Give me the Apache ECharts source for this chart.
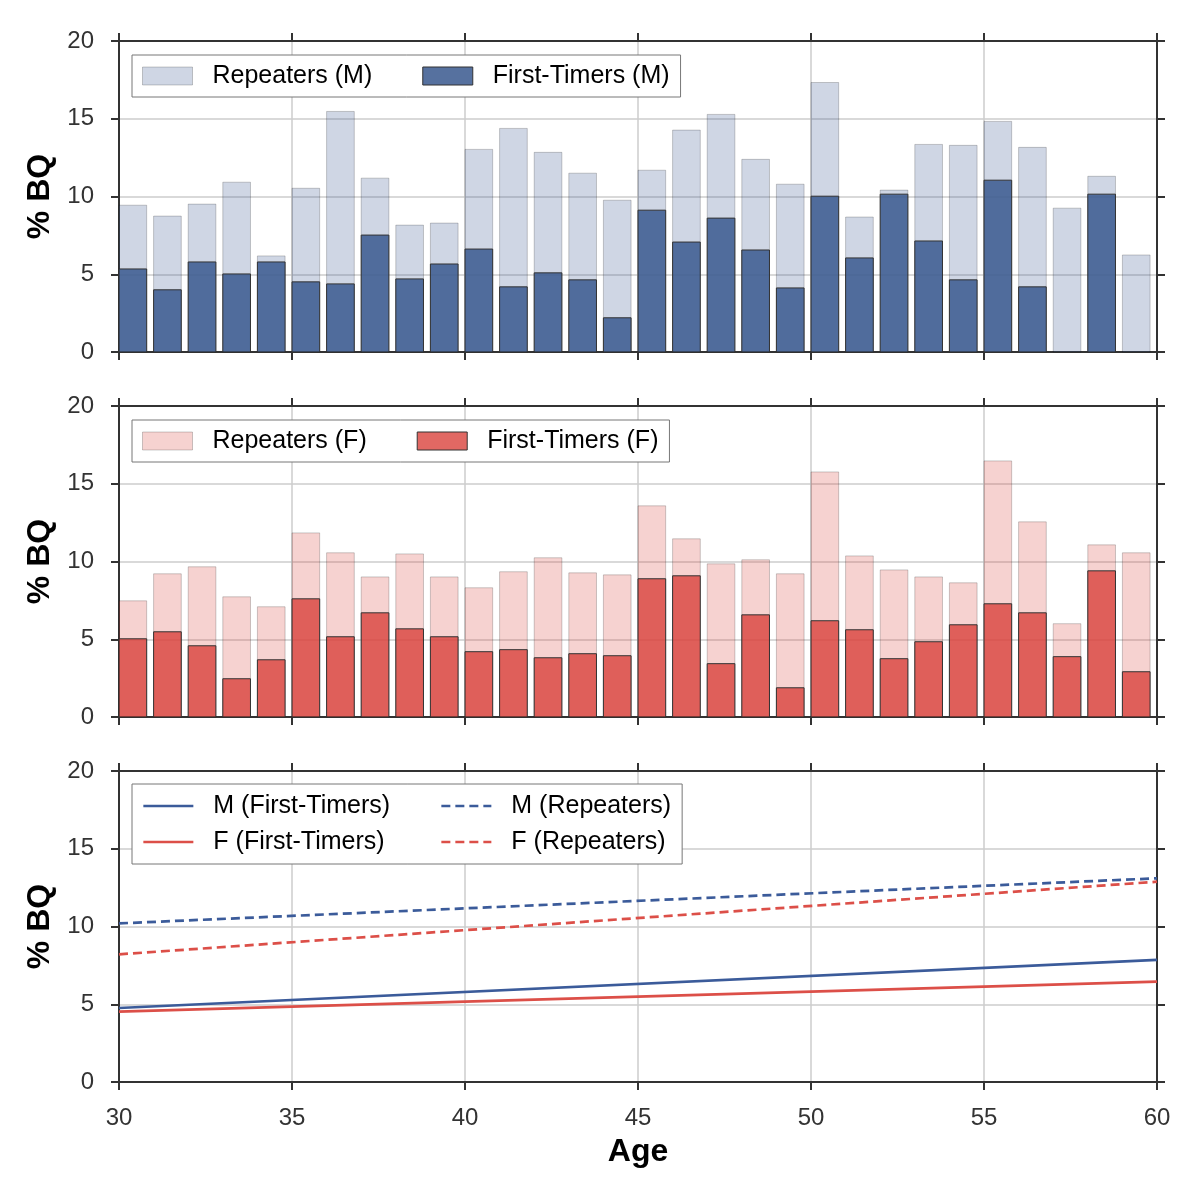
<!DOCTYPE html>
<html>
<head>
<meta charset="utf-8">
<script src="https://cdn.jsdelivr.net/npm/echarts@6/dist/echarts.min.js"></script>
<style>
html,body{margin:0;padding:0;background:#fff;}
#chart{width:1200px;height:1200px;}
</style>
</head>
<body>
<div id="chart"></div>
<script>
// ---- data ----
const ages = [30,31,32,33,34,35,36,37,38,39,40,41,42,43,44,45,46,47,48,49,50,51,52,53,54,55,56,57,58,59];
const repM = [9.44,8.74,9.51,10.92,6.18,10.53,15.47,11.18,8.16,8.29,13.03,14.38,12.84,11.50,9.76,11.69,14.27,15.28,12.39,10.79,17.33,8.68,10.41,13.35,13.29,14.83,13.16,9.25,11.30,6.24];
const ftM  = [5.34,4.00,5.79,5.02,5.79,4.51,4.38,7.52,4.70,5.66,6.62,4.19,5.09,4.64,2.20,9.12,7.07,8.61,6.56,4.12,10.02,6.05,10.15,7.14,4.64,11.05,4.19,0,10.15,0];
const repF = [7.47,9.21,9.66,7.73,7.09,11.84,10.56,9.01,10.49,9.01,8.31,9.34,10.24,9.27,9.14,13.58,11.46,9.85,10.11,9.21,15.76,10.36,9.46,9.01,8.63,16.47,12.55,6.00,11.07,10.56];
const ftF  = [5.03,5.48,4.58,2.46,3.68,7.60,5.16,6.70,5.67,5.16,4.20,4.33,3.81,4.07,3.94,8.89,9.08,3.43,6.57,1.88,6.19,5.61,3.75,4.84,5.93,7.28,6.70,3.88,9.40,2.91];
const trendAges = [30, 60];
const trendMFt  = [4.76, 7.85];
const trendFFt  = [4.52, 6.45];
const trendMRep = [10.20, 13.10];
const trendFRep = [8.21, 12.88];
const xTicks = {min: 30, max: 60, interval: 5};
const yTicks = {min: 0, max: 20, interval: 5};

// ---- styles ----
const FONT = 'Liberation Sans, Arial, sans-serif';
const AX = '#333333';
const GRIDC = '#cccccc';
const BAR_W = 0.8;
const LINE_W = 2.7;
const C = {
  repM: 'rgba(63,93,146,0.25)', ftM: 'rgba(63,93,146,0.88)',
  repF: 'rgba(217,66,60,0.24)', ftF: 'rgba(217,66,60,0.80)',
  lineM: '#3b5b9a', lineF: '#dc4f48'
};
const grids = [
  {left: 119, top: 41, width: 1038, height: 311},
  {left: 119, top: 406, width: 1038, height: 311},
  {left: 119, top: 771, width: 1038, height: 311}
];

const xAxes = [], yAxes = [];
grids.forEach((g, i) => {
  const last = i === grids.length - 1;
  xAxes.push({
    type: 'value', gridIndex: i, min: xTicks.min, max: xTicks.max, interval: xTicks.interval,
    position: 'bottom',
    axisLine: {show: true, onZero: false, lineStyle: {color: AX, width: 2}},
    axisTick: {show: true, inside: false, length: 8, lineStyle: {color: AX, width: 2}},
    splitLine: {show: true, lineStyle: {color: GRIDC, width: 1.5}},
    axisLabel: {show: last, fontSize: 24, color: AX, fontFamily: FONT, margin: 24},
    name: last ? 'Age' : '', nameLocation: 'middle', nameGap: 54,
    nameTextStyle: {fontSize: 32, fontWeight: 'bold', color: '#000', fontFamily: FONT}
  });
  xAxes.push({
    type: 'value', gridIndex: i, min: xTicks.min, max: xTicks.max, interval: xTicks.interval,
    position: 'top',
    axisLine: {show: true, onZero: false, lineStyle: {color: AX, width: 2}},
    axisTick: {show: true, inside: false, length: 8, lineStyle: {color: AX, width: 2}},
    splitLine: {show: false}, axisLabel: {show: false}
  });
  yAxes.push({
    type: 'value', gridIndex: i, min: yTicks.min, max: yTicks.max, interval: yTicks.interval,
    position: 'left',
    axisLine: {show: true, onZero: false, lineStyle: {color: AX, width: 2}},
    axisTick: {show: true, inside: false, length: 8, lineStyle: {color: AX, width: 2}},
    splitLine: {show: true, lineStyle: {color: GRIDC, width: 1.5}},
    axisLabel: {fontSize: 24, color: AX, fontFamily: FONT, margin: 25},
    name: '% BQ', nameLocation: 'middle', nameGap: 62, nameRotate: 90,
    nameTextStyle: {fontSize: 32, fontWeight: 'bold', color: '#000', fontFamily: FONT}
  });
  yAxes.push({
    type: 'value', gridIndex: i, min: yTicks.min, max: yTicks.max, interval: yTicks.interval,
    position: 'right',
    axisLine: {show: true, onZero: false, lineStyle: {color: AX, width: 2}},
    axisTick: {show: true, inside: false, length: 8, lineStyle: {color: AX, width: 2}},
    splitLine: {show: false}, axisLabel: {show: false}
  });
});

function barSeries(name, values, gi, fill, stroke, z) {
  return {
    type: 'custom', name: name, xAxisIndex: gi * 2, yAxisIndex: gi * 2, z: z,
    itemStyle: {color: fill, borderColor: stroke, borderWidth: 1},
    encode: {x: 0, y: 1},
    data: ages.map((a, k) => [a, values[k]]),
    renderItem: function (params, api) {
      const x0 = api.value(0), v = api.value(1);
      if (!v) return null;
      const p0 = api.coord([x0, 0]);
      const p1 = api.coord([x0 + BAR_W, v]);
      return {
        type: 'rect',
        shape: {x: p0[0], y: p1[1], width: p1[0] - p0[0], height: p0[1] - p1[1]},
        style: {fill: fill, stroke: stroke, lineWidth: 1}
      };
    }
  };
}
function lineSeries(name, vals, color, dashed) {
  return {
    type: 'line', name: name, xAxisIndex: 4, yAxisIndex: 4, symbol: 'none', showSymbol: false,
    lineStyle: {color: color, width: LINE_W, type: dashed ? [9, 5] : 'solid'},
    itemStyle: {color: color},
    data: trendAges.map((a, k) => [a, vals[k]])
  };
}

const legendText = {fontSize: 25, color: '#000', fontFamily: FONT, padding: [0, 0, 0, 15], lineHeight: 26};
const legendBase = {
  itemWidth: 50, itemHeight: 18, icon: 'rect', textStyle: legendText,
  borderColor: '#777', borderWidth: 1, borderRadius: 0, backgroundColor: '#fff',
  selectedMode: false
};
const hidden = {color: 'rgba(0,0,0,0)', borderColor: 'rgba(0,0,0,0)', borderWidth: 0};
const lineLegendItem = (name) => ({name: name, itemStyle: hidden});

const option = {
  animation: false,
  backgroundColor: '#fff',
  grid: grids,
  xAxis: xAxes,
  yAxis: yAxes,
  legend: [
    Object.assign({}, legendBase, {
      left: 132, top: 55, padding: [8, 11, 8, 10], itemGap: 50,
      data: [
        {name: 'Repeaters (M)', itemStyle: {color: C.repM, borderColor: 'rgba(0,0,0,0.2)', borderWidth: 1}},
        {name: 'First-Timers (M)', itemStyle: {color: C.ftM, borderColor: '#333', borderWidth: 1}}
      ]
    }),
    Object.assign({}, legendBase, {
      left: 132, top: 420, padding: [8, 11, 8, 10], itemGap: 50,
      data: [
        {name: 'Repeaters (F)', itemStyle: {color: C.repF, borderColor: 'rgba(0,0,0,0.2)', borderWidth: 1}},
        {name: 'First-Timers (F)', itemStyle: {color: C.ftF, borderColor: '#333', borderWidth: 1}}
      ]
    }),
    {
      left: 132, top: 784, orient: 'vertical', padding: [9, 292, 9, 10], itemGap: 10,
      itemWidth: 50, itemHeight: 18, textStyle: legendText,
      lineStyle: {width: LINE_W},
      borderColor: '#777', borderWidth: 1, backgroundColor: '#fff', selectedMode: false,
      data: [lineLegendItem('M (First-Timers)'), lineLegendItem('F (First-Timers)')]
    },
    {
      left: 430, top: 784, orient: 'vertical', padding: [9, 0, 9, 10], itemGap: 10,
      itemWidth: 50, itemHeight: 18, textStyle: legendText,
      lineStyle: {width: LINE_W},
      selectedMode: false,
      data: [lineLegendItem('M (Repeaters)'), lineLegendItem('F (Repeaters)')]
    }
  ],
  series: [
    barSeries('Repeaters (M)', repM, 0, C.repM, 'rgba(0,0,0,0.2)', 2),
    barSeries('First-Timers (M)', ftM, 0, C.ftM, '#333', 3),
    barSeries('Repeaters (F)', repF, 1, C.repF, 'rgba(0,0,0,0.2)', 2),
    barSeries('First-Timers (F)', ftF, 1, C.ftF, '#333', 3),
    lineSeries('M (First-Timers)', trendMFt, C.lineM, false),
    lineSeries('F (First-Timers)', trendFFt, C.lineF, false),
    lineSeries('M (Repeaters)', trendMRep, C.lineM, true),
    lineSeries('F (Repeaters)', trendFRep, C.lineF, true)
  ]
};

const chart = echarts.init(document.getElementById('chart'), null, {renderer: 'canvas'});
chart.setOption(option);
</script>
</body>
</html>
